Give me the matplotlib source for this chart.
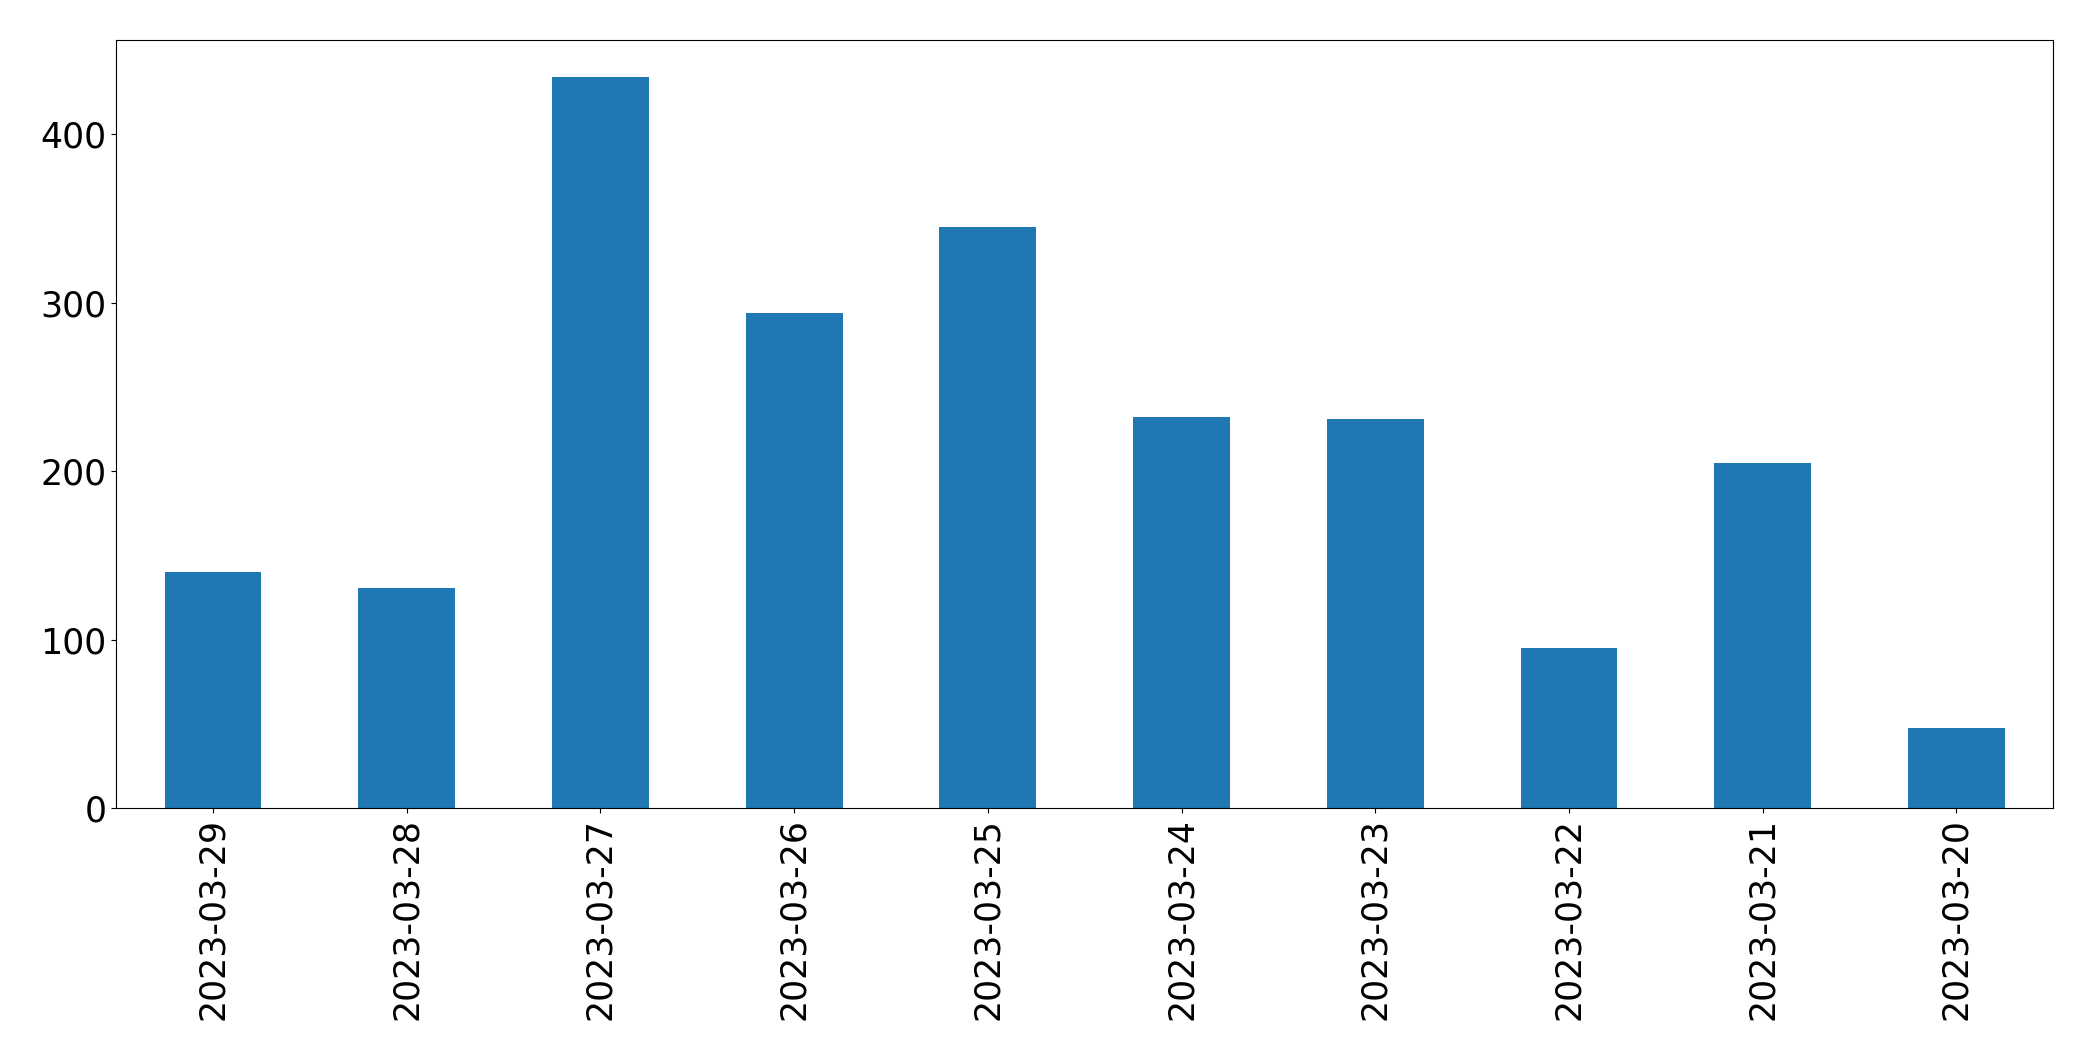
import matplotlib
matplotlib.use("Agg")
import matplotlib.pyplot as plt
import numpy as np

# 每日数量（日期倒序）
dates = ["2023-03-29", "2023-03-28", "2023-03-27", "2023-03-26", "2023-03-25",
         "2023-03-24", "2023-03-23", "2023-03-22", "2023-03-21", "2023-03-20"]
counts = [140, 131, 434, 294, 345, 232, 231, 95, 205, 48]

fig, ax = plt.subplots(figsize=(20.93, 10.61), dpi=100)
x = np.arange(len(dates))
ax.bar(x, counts, width=0.5, color="#1f77b4")
ax.set_xticks(x)
ax.set_xticklabels(dates, rotation=90)
ax.set_xlim(-0.5, len(dates) - 0.5)
ax.tick_params(axis="both", labelsize=25)

fig.subplots_adjust(left=0.0555, right=0.981, top=0.962, bottom=0.238)
plt.savefig("out.png", dpi=100)
